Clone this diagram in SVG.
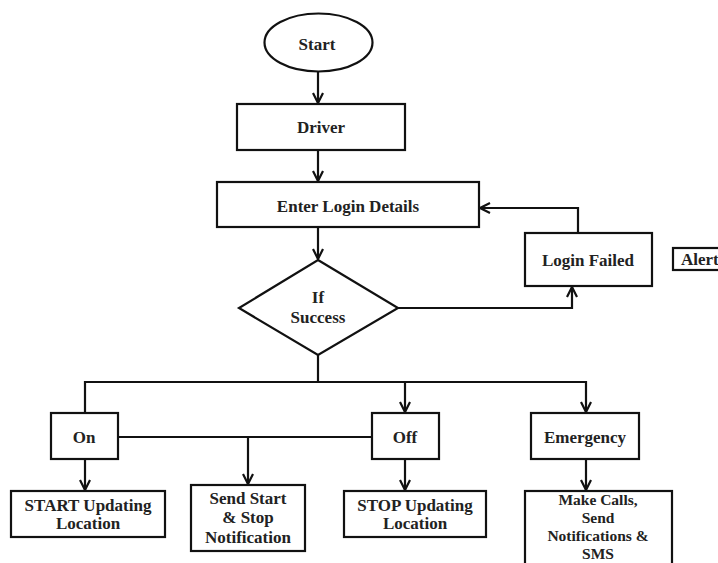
<svg xmlns="http://www.w3.org/2000/svg" width="718" height="563" viewBox="0 0 718 563">
<style>
.b{fill:#fff;stroke:#111;stroke-width:2.2}
.t{font-family:"Liberation Serif","Times New Roman","DejaVu Serif",serif;font-weight:bold;font-size:17px;fill:#222;text-anchor:middle}
.s{font-size:15.5px}
.c{fill:none;stroke:#111;stroke-width:2.2}
</style>
<defs>
<marker id="a" viewBox="0 0 12 12" refX="11" refY="6" markerWidth="12" markerHeight="12" markerUnits="userSpaceOnUse" orient="auto">
<path d="M1,1 L11,6 L1,11" fill="none" stroke="#111" stroke-width="2.2"/>
</marker>
</defs>
<rect width="718" height="563" fill="#fff"/>
<g id="connectors">
<line class="c" x1="318" y1="72" x2="318" y2="103" marker-end="url(#a)"/>
<line class="c" x1="318" y1="150" x2="318" y2="181" marker-end="url(#a)"/>
<line class="c" x1="318" y1="227" x2="318" y2="259" marker-end="url(#a)"/>
<polyline class="c" points="398,308 572,308 572,287" marker-end="url(#a)"/>
<polyline class="c" points="578,233 578,208 480,208" marker-end="url(#a)"/>
<line class="c" x1="318" y1="355" x2="318" y2="382"/>
<polyline class="c" points="85,412 85,382 586,382 586,412" marker-end="url(#a)"/>
<line class="c" x1="405" y1="382" x2="405" y2="412" marker-end="url(#a)"/>
<line class="c" x1="118" y1="437" x2="372" y2="437"/>
<line class="c" x1="248" y1="437" x2="248" y2="484" marker-end="url(#a)"/>
<line class="c" x1="85" y1="459" x2="85" y2="490" marker-end="url(#a)"/>
<line class="c" x1="405" y1="459" x2="405" y2="490" marker-end="url(#a)"/>
<line class="c" x1="586" y1="459" x2="586" y2="490" marker-end="url(#a)"/>
</g>
<g id="start">
<ellipse class="b" cx="318.5" cy="42.5" rx="54" ry="29"/>
<text class="t" x="317" y="50">Start</text>
</g>
<g id="driver">
<rect class="b" x="237" y="104" width="168" height="46"/>
<text class="t" x="321" y="133">Driver</text>
</g>
<g id="login">
<rect class="b" x="217" y="182" width="262" height="45"/>
<text class="t" x="348" y="212">Enter Login Details</text>
</g>
<g id="decision">
<polygon class="b" points="318,260 398,308 318,355 239,308"/>
<text class="t" x="318" y="303">If</text>
<text class="t" x="318" y="323">Success</text>
</g>
<g id="loginfailed">
<rect class="b" x="525" y="233" width="127" height="53"/>
<text class="t" x="588" y="266">Login Failed</text>
</g>
<g id="alert">
<rect class="b" x="673" y="248" width="60" height="22"/>
<text class="t" x="681" y="265" style="text-anchor:start">Alert</text>
</g>
<g id="on">
<rect class="b" x="51" y="413" width="67" height="46"/>
<text class="t" x="84" y="443">On</text>
</g>
<g id="off">
<rect class="b" x="372" y="413" width="67" height="46"/>
<text class="t" x="405" y="443">Off</text>
</g>
<g id="emergency">
<rect class="b" x="531" y="413" width="108" height="46"/>
<text class="t" x="585" y="443">Emergency</text>
</g>
<g id="startupd">
<rect class="b" x="11" y="491" width="154" height="46"/>
<text class="t" x="88" y="511">START Updating</text>
<text class="t" x="88" y="529">Location</text>
</g>
<g id="sendnotif">
<rect class="b" x="191" y="485" width="114" height="66"/>
<text class="t" x="248" y="504">Send Start</text>
<text class="t" x="248" y="523">&amp; Stop</text>
<text class="t" x="248" y="543">Notification</text>
</g>
<g id="stopupd">
<rect class="b" x="344" y="491" width="142" height="46"/>
<text class="t" x="415" y="511">STOP Updating</text>
<text class="t" x="415" y="529">Location</text>
</g>
<g id="calls">
<rect class="b" x="525" y="491" width="147" height="90"/>
<text class="t s" x="598" y="505">Make Calls,</text>
<text class="t s" x="598" y="523">Send</text>
<text class="t s" x="598" y="541">Notifications &amp;</text>
<text class="t s" x="598" y="559">SMS</text>
</g>
</svg>
